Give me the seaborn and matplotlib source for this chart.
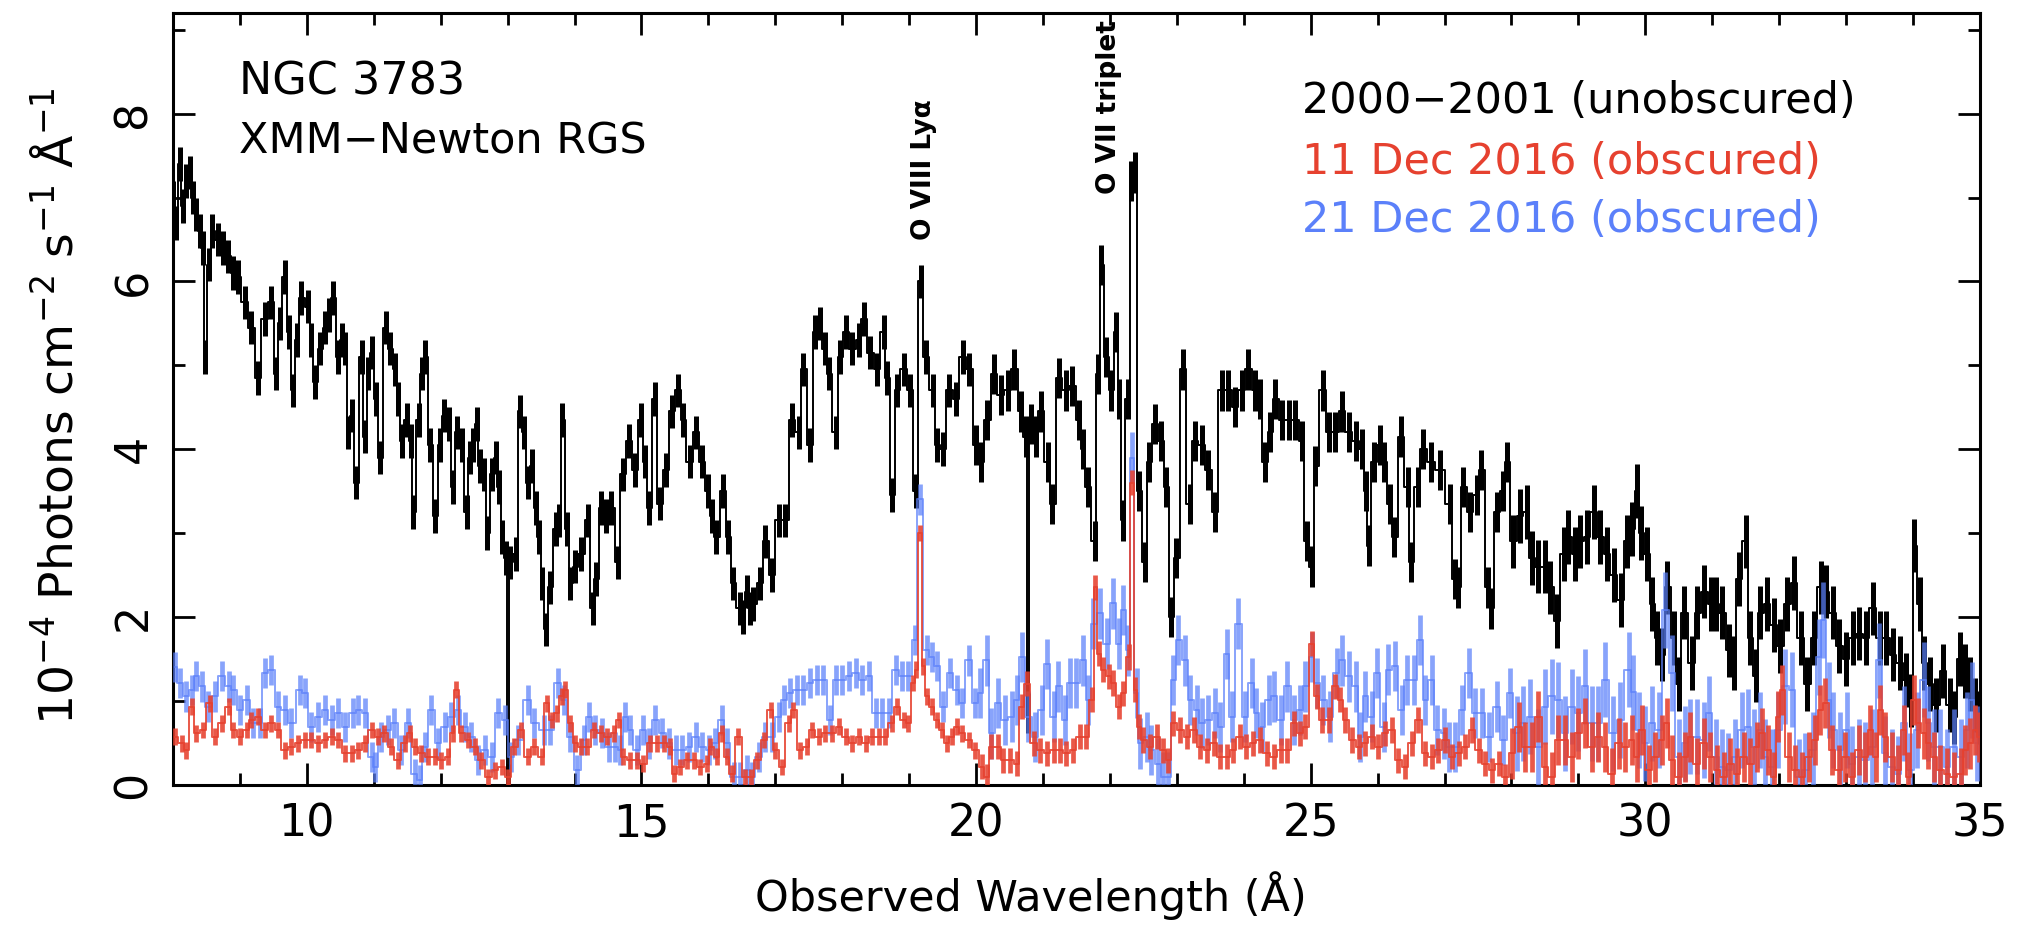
"""
NGC 3783 RGS spectrum: unobscured 2000-2001 vs two obscured epochs in Dec 2016.
Values read off the published figure (step spectrum with 1-sigma error bars).
"""
import matplotlib
matplotlib.use("Agg")
import matplotlib.pyplot as plt
import numpy as np
import seaborn as sns
from matplotlib.ticker import MultipleLocator

# ---- 2000-2001 (unobscured), black ----
wl_black = [
    8.00, 8.05, 8.10, 8.15, 8.20, 8.25, 8.30, 8.35, 8.40, 8.45, 8.48, 8.54, 8.59, 8.67, 8.75,
    8.82, 8.90, 8.97, 9.07, 9.17, 9.27, 9.37, 9.47, 9.54, 9.60, 9.67, 9.73, 9.79, 9.85, 9.92,
    10.02, 10.07, 10.12, 10.20, 10.27, 10.33, 10.39, 10.47, 10.52, 10.57, 10.62, 10.68, 10.74,
    10.82, 10.87, 10.92, 10.97, 11.03, 11.09, 11.19, 11.25, 11.32, 11.37, 11.42, 11.49, 11.55,
    11.59, 11.67, 11.72, 11.77, 11.84, 11.92, 11.99, 12.05, 12.12, 12.19, 12.25, 12.32, 12.39,
    12.44, 12.49, 12.54, 12.59, 12.65, 12.69, 12.77, 12.82, 12.87, 12.92, 12.97, 13.00, 13.03,
    13.12, 13.19, 13.24, 13.30, 13.37, 13.42, 13.47, 13.52, 13.57, 13.64, 13.72, 13.77, 13.82,
    13.89, 13.94, 14.00, 14.10, 14.20, 14.27, 14.32, 14.40, 14.47, 14.55, 14.65, 14.72, 14.82,
    14.90, 15.00, 15.05, 15.12, 15.20, 15.27, 15.37, 15.45, 15.55, 15.62, 15.72, 15.82, 15.90,
    16.00, 16.06, 16.12, 16.22, 16.30, 16.37, 16.47, 16.52, 16.57, 16.62, 16.67, 16.77, 16.85,
    16.95, 17.05, 17.15, 17.25, 17.35, 17.42, 17.52, 17.60, 17.67, 17.74, 17.80, 17.90, 17.97,
    18.05, 18.15, 18.25, 18.32, 18.42, 18.52, 18.62, 18.67, 18.75, 18.82, 18.92, 19.02, 19.10,
    19.17, 19.25, 19.35, 19.42, 19.50, 19.60, 19.70, 19.80, 19.90, 20.00, 20.07, 20.17, 20.27,
    20.37, 20.47, 20.57, 20.67, 20.74, 20.77, 20.82, 20.89, 20.97, 21.07, 21.14, 21.24, 21.34,
    21.44, 21.54, 21.60, 21.67, 21.77, 21.82, 21.87, 21.94, 22.02, 22.09, 22.14, 22.19, 22.27,
    22.32, 22.37, 22.44, 22.52, 22.59, 22.67, 22.77, 22.84, 22.92, 22.99, 23.09, 23.19, 23.27,
    23.37, 23.47, 23.57, 23.67, 23.77, 23.87, 23.97, 24.07, 24.17, 24.24, 24.32, 24.39, 24.47,
    24.57, 24.67, 24.77, 24.87, 24.94, 25.02, 25.07, 25.19, 25.27, 25.37, 25.47, 25.57, 25.67,
    25.77, 25.82, 25.87, 25.94, 26.04, 26.10, 26.18, 26.25, 26.35, 26.45, 26.50, 26.60, 26.68,
    26.80, 26.93, 27.08, 27.15, 27.20, 27.28, 27.38, 27.48, 27.55, 27.65, 27.70, 27.78, 27.88,
    27.93, 28.03, 28.13, 28.23, 28.30, 28.40, 28.50, 28.58, 28.68, 28.78, 28.85, 28.95, 29.03,
    29.13, 29.23, 29.33, 29.43, 29.53, 29.63, 29.73, 29.80, 29.88, 29.93, 30.03, 30.10, 30.18,
    30.25, 30.33, 30.43, 30.50, 30.58, 30.70, 30.78, 30.88, 30.98, 31.05, 31.15, 31.25, 31.32,
    31.40, 31.50, 31.57, 31.65, 31.72, 31.82, 31.92, 32.02, 32.12, 32.22, 32.32, 32.42, 32.52,
    32.62, 32.70, 32.80, 32.90, 33.00, 33.10, 33.20, 33.30, 33.40, 33.50, 33.60, 33.70, 33.80,
    33.90, 33.97, 34.02, 34.10, 34.17, 34.25, 34.35, 34.45, 34.55, 34.62, 34.70, 34.77, 34.85,
    34.92, 35.00,
]
flux_black = [
    7.0, 6.7, 7.4, 6.9, 7.2, 7.3, 7.0, 6.8, 6.6, 6.4, 5.1, 6.2, 6.6, 6.5, 6.4,
    6.3, 6.1, 6.05, 5.75, 5.45, 4.85, 5.55, 5.75, 4.9, 5.5, 6.05, 5.4, 4.7, 5.3, 5.8,
    5.7, 5.3, 4.8, 5.2, 5.45, 5.6, 5.8, 5.1, 5.3, 5.2, 4.2, 4.4, 3.6,
    5.1, 4.15, 4.9, 5.15, 4.6, 3.9, 5.45, 5.2, 4.95, 4.6, 4.1, 4.35, 4.1,
    3.25, 4.35, 4.9, 5.1, 4.05, 3.2, 4.05, 4.4, 4.3, 3.55, 4.2, 4.05, 3.25,
    3.9, 4.05, 4.3, 3.8, 3.7, 3.0, 3.7, 3.9, 3.55, 2.95, 2.7, 0.05, 2.65,
    2.75, 4.45, 4.2, 3.6, 3.8, 3.3, 2.95, 2.4, 1.85, 2.35, 3.05, 3.15, 4.35,
    3.05, 2.4, 2.6, 2.75, 3.15, 2.1, 2.45, 3.3, 3.2, 3.3, 2.65, 3.7, 4.1,
    3.75, 4.35, 3.85, 3.3, 4.6, 3.35, 3.75, 4.45, 4.7, 4.35, 3.85, 4.2, 3.85,
    3.5, 3.2, 2.95, 3.5, 2.95, 2.4, 2.1, 2.0, 2.3, 2.1, 2.15, 2.4, 2.9,
    2.5, 3.15, 3.15, 4.35, 4.2, 4.95, 4.05, 5.4, 5.5, 5.2, 4.9, 4.2, 5.1,
    5.4, 5.2, 5.3, 5.55, 5.15, 4.95, 5.4, 4.85, 3.45, 4.7, 4.95, 4.7, 3.5,
    6.0, 5.1, 4.7, 4.05, 4.0, 4.7, 4.6, 5.1, 4.95, 4.05, 3.85, 4.35, 4.9,
    4.65, 4.7, 4.95, 4.45, 4.15, 0.85, 4.3, 4.15, 4.45, 3.85, 3.35, 4.85, 4.7,
    4.75, 4.35, 4.0, 3.55, 2.9, 4.9, 6.2, 5.1, 4.7, 5.4, 4.6, 3.15, 4.6,
    7.2, 7.3, 3.5, 2.65, 3.85, 4.3, 4.1, 3.55, 2.0, 2.7, 4.95, 3.35, 4.1,
    4.05, 3.75, 3.25, 4.7, 4.7, 4.5, 4.7, 4.95, 4.7, 4.6, 3.85, 4.2, 4.6,
    4.35, 4.35, 4.35, 4.1, 2.9, 2.6, 3.8, 4.7, 4.2, 4.2, 4.45, 4.2, 4.1,
    4.0, 3.5, 2.85, 3.85, 4.05, 3.85, 3.35, 2.95, 4.15, 3.55, 2.65, 3.55, 4.0,
    3.85, 3.75, 3.35, 2.45, 2.35, 3.55, 3.25, 3.45, 3.75, 2.35, 2.1, 3.25, 3.5,
    3.85, 2.9, 3.2, 3.25, 2.7, 2.6, 2.6, 2.35, 1.95, 2.75, 2.95, 2.75, 2.9,
    2.95, 3.25, 2.95, 2.75, 2.5, 2.2, 2.9, 3.05, 3.5, 3.0, 2.75, 2.15, 1.75,
    1.55, 2.35, 1.75, 1.2, 2.05, 1.45, 2.05, 2.3, 2.15, 2.15, 2.05, 1.6, 1.45,
    2.45, 2.9, 1.75, 1.3, 2.05, 2.15, 1.9, 1.65, 2.15, 2.4, 1.75, 1.2, 1.75,
    2.35, 2.3, 2.05, 1.65, 1.5, 1.75, 1.8, 1.75, 2.1, 1.75, 1.75, 1.55, 1.45,
    1.25, 1.0, 2.85, 2.15, 1.45, 1.2, 0.95, 1.35, 0.95, 0.8, 1.5, 1.35, 1.2,
    0.95, 0.8,
]

# ---- 11 Dec 2016 (obscured), red ----
wl_red = [
    8.03, 8.13, 8.20, 8.28, 8.35, 8.45, 8.55, 8.63, 8.73, 8.83, 8.90, 9.00, 9.10, 9.17, 9.27,
    9.37, 9.47, 9.57, 9.67, 9.77, 9.87, 9.97, 10.07, 10.17, 10.27, 10.37, 10.47, 10.57, 10.67,
    10.77, 10.87, 10.97, 11.06, 11.16, 11.26, 11.36, 11.46, 11.54, 11.61, 11.71, 11.81, 11.91,
    12.01, 12.11, 12.18, 12.23, 12.31, 12.41, 12.51, 12.61, 12.71, 12.81, 12.91, 13.01, 13.10,
    13.20, 13.30, 13.40, 13.51, 13.59, 13.66, 13.74, 13.81, 13.86, 13.94, 14.01, 14.09, 14.19,
    14.29, 14.39, 14.49, 14.59, 14.66, 14.73, 14.83, 14.93, 15.03, 15.13, 15.23, 15.33, 15.43,
    15.48, 15.58, 15.68, 15.78, 15.88, 15.98, 16.03, 16.13, 16.20, 16.28, 16.35, 16.45, 16.55,
    16.63, 16.73, 16.83, 16.93, 17.00, 17.10, 17.20, 17.27, 17.37, 17.47, 17.55, 17.65, 17.75,
    17.85, 17.95, 18.05, 18.15, 18.25, 18.35, 18.45, 18.55, 18.64, 18.74, 18.82, 18.92, 18.99,
    19.06, 19.11, 19.16, 19.21, 19.26, 19.34, 19.41, 19.49, 19.56, 19.64, 19.71, 19.79, 19.89,
    19.99, 20.09, 20.16, 20.23, 20.33, 20.41, 20.51, 20.61, 20.68, 20.76, 20.86, 20.96, 21.06,
    21.16, 21.26, 21.35, 21.45, 21.55, 21.65, 21.73, 21.78, 21.83, 21.90, 21.98, 22.05, 22.13,
    22.20, 22.28, 22.33, 22.38, 22.43, 22.50, 22.60, 22.70, 22.80, 22.87, 22.95, 23.05, 23.15,
    23.25, 23.35, 23.45, 23.55, 23.65, 23.75, 23.84, 23.94, 24.04, 24.14, 24.24, 24.34, 24.45,
    24.55, 24.65, 24.75, 24.84, 24.92, 25.02, 25.09, 25.17, 25.27, 25.37, 25.44, 25.52, 25.62,
    25.72, 25.81, 25.91, 26.01, 26.11, 26.21, 26.31, 26.41, 26.51, 26.61, 26.71, 26.81, 26.91,
    27.01, 27.11, 27.21, 27.31, 27.41, 27.51, 27.61, 27.71, 27.81, 27.91, 28.01, 28.11, 28.21,
    28.30, 28.40, 28.50, 28.60, 28.70, 28.80, 28.90, 29.00, 29.10, 29.20, 29.30, 29.40, 29.50,
    29.60, 29.70, 29.80, 29.87, 29.95, 30.05, 30.15, 30.25, 30.32, 30.40, 30.50, 30.60, 30.67,
    30.77, 30.87, 30.97, 31.07, 31.17, 31.27, 31.37, 31.47, 31.57, 31.67, 31.74, 31.84, 31.92,
    31.99, 32.04, 32.14, 32.24, 32.34, 32.44, 32.54, 32.61, 32.69, 32.79, 32.89, 32.99, 33.09,
    33.19, 33.29, 33.36, 33.44, 33.51, 33.58, 33.68, 33.78, 33.86, 33.93, 34.01, 34.08, 34.16,
    34.23, 34.31, 34.41, 34.51, 34.61, 34.71, 34.78, 34.85, 34.93, 34.98,
]
flux_red = [
    0.57, 0.49, 0.41, 0.93, 0.61, 0.65, 0.97, 0.57, 0.73, 0.93, 0.65, 0.57, 0.65, 0.77, 0.81,
    0.65, 0.73, 0.65, 0.41, 0.45, 0.49, 0.53, 0.53, 0.49, 0.53, 0.57, 0.53, 0.37, 0.37,
    0.41, 0.49, 0.65, 0.57, 0.61, 0.45, 0.29, 0.49, 0.61, 0.45, 0.37, 0.33, 0.33,
    0.29, 0.33, 0.61, 1.13, 0.61, 0.53, 0.45, 0.29, 0.09, 0.17, 0.21, 0.09, 0.45,
    0.65, 0.33, 0.45, 0.33, 0.97, 0.77, 0.85, 1.05, 1.13, 0.73, 0.49, 0.45, 0.45,
    0.65, 0.61, 0.57, 0.61, 0.77, 0.33, 0.29, 0.29, 0.25, 0.49, 0.49, 0.49, 0.45,
    0.13, 0.21, 0.29, 0.29, 0.21, 0.25, 0.45, 0.33, 0.61, 0.33, 0.13, 0.57, 0.09,
    0.09, 0.29, 0.53, 0.89, 0.41, 0.21, 0.73, 0.89, 0.41, 0.45, 0.65, 0.57, 0.61,
    0.61, 0.69, 0.57, 0.49, 0.57, 0.49, 0.57, 0.57, 0.57, 0.73, 0.93, 0.77, 0.73,
    1.21, 1.37, 3.0, 1.41, 1.05, 0.93, 0.77, 0.65, 0.49, 0.57, 0.69, 0.61, 0.53,
    0.41, 0.21, 0.09, 0.45, 0.45, 0.29, 0.29, 0.25, 0.93, 1.2, 0.49, 0.41, 0.37,
    0.41, 0.41, 0.37, 0.41, 0.57, 0.57, 1.01, 2.35, 1.56, 1.37, 1.29, 1.21, 0.93,
    1.09, 1.52, 3.6, 1.13, 0.69, 0.53, 0.45, 0.57, 0.41, 0.29, 0.73, 0.65, 0.57,
    0.65, 0.45, 0.41, 0.49, 0.33, 0.33, 0.41, 0.57, 0.45, 0.49, 0.53, 0.37, 0.33,
    0.41, 0.41, 0.73, 0.61, 0.69, 1.68, 1.05, 0.77, 0.77, 1.17, 1.01, 0.77, 0.53,
    0.45, 0.49, 0.57, 0.45, 0.61, 0.65, 0.29, 0.21, 0.49, 0.77, 0.37, 0.33, 0.41,
    0.53, 0.33, 0.37, 0.45, 0.65, 0.41, 0.25, 0.17, 0.25, 0.09, 0.37, 0.69, 0.45,
    0.45, 0.81, 0.21, 0.09, 0.53, 0.53, 0.33, 0.61, 0.73, 0.45, 0.57, 0.45, 0.13,
    0.49, 0.45, 0.53, 0.33, 0.65, 0.17, 0.33, 0.53, 0.73, 0.29, 0.09, 0.33, 0.57,
    0.25, 0.49, 0.33, 0.17, 0.09, 0.25, 0.13, 0.33, 0.25, 0.45, 0.61, 0.41, 0.09,
    0.81, 1.13, 0.33, 0.17, 0.09, 0.33, 0.53, 0.89, 0.97, 0.41, 0.17, 0.33, 0.09,
    0.41, 0.33, 0.65, 0.33, 0.89, 0.57, 0.33, 0.17, 0.65, 0.09, 1.01, 0.73, 0.61,
    0.49, 0.33, 0.17, 0.13, 0.09, 0.13, 0.41, 0.49, 0.65, 0.57,
]

# ---- 21 Dec 2016 (obscured), blue ----
wl_blue = [
    8.03, 8.10, 8.20, 8.28, 8.35, 8.43, 8.53, 8.63, 8.73, 8.83, 8.90, 9.00, 9.10, 9.20, 9.30,
    9.37, 9.47, 9.57, 9.67, 9.77, 9.90, 9.97, 10.07, 10.17, 10.27, 10.37, 10.47, 10.57, 10.69,
    10.77, 10.87, 10.97, 11.02, 11.11, 11.21, 11.31, 11.41, 11.51, 11.61, 11.69, 11.76, 11.86,
    11.96, 12.06, 12.16, 12.26, 12.36, 12.46, 12.56, 12.66, 12.76, 12.86, 12.96, 13.05, 13.15,
    13.30, 13.40, 13.54, 13.64, 13.76, 13.84, 13.94, 14.04, 14.14, 14.21, 14.31, 14.41, 14.51,
    14.61, 14.68, 14.76, 14.83, 14.93, 15.03, 15.11, 15.21, 15.31, 15.41, 15.51, 15.61, 15.71,
    15.81, 15.91, 16.01, 16.10, 16.20, 16.28, 16.38, 16.48, 16.58, 16.65, 16.75, 16.85, 16.95,
    17.05, 17.13, 17.22, 17.32, 17.42, 17.52, 17.62, 17.72, 17.82, 17.90, 18.00, 18.10, 18.20,
    18.30, 18.40, 18.50, 18.60, 18.70, 18.80, 18.89, 18.99, 19.09, 19.16, 19.26, 19.34, 19.41,
    19.51, 19.61, 19.71, 19.79, 19.89, 19.99, 20.06, 20.16, 20.23, 20.33, 20.43, 20.53, 20.61,
    20.68, 20.78, 20.88, 20.98, 21.06, 21.16, 21.23, 21.33, 21.40, 21.50, 21.60, 21.68, 21.75,
    21.85, 21.95, 22.05, 22.13, 22.20, 22.27, 22.33, 22.40, 22.45, 22.55, 22.62, 22.72, 22.80,
    22.87, 22.95, 23.02, 23.12, 23.20, 23.30, 23.37, 23.47, 23.57, 23.65, 23.75, 23.82, 23.92,
    24.02, 24.12, 24.19, 24.27, 24.37, 24.45, 24.55, 24.65, 24.75, 24.84, 24.92, 25.02, 25.09,
    25.19, 25.29, 25.39, 25.47, 25.57, 25.67, 25.74, 25.81, 25.91, 25.99, 26.09, 26.16, 26.26,
    26.36, 26.44, 26.54, 26.64, 26.71, 26.81, 26.89, 26.99, 27.06, 27.16, 27.26, 27.36, 27.46,
    27.56, 27.66, 27.78, 27.88, 27.98, 28.08, 28.18, 28.28, 28.40, 28.50, 28.60, 28.70, 28.80,
    28.90, 29.00, 29.10, 29.20, 29.30, 29.40, 29.52, 29.62, 29.75, 29.82, 29.90, 30.00, 30.10,
    30.20, 30.30, 30.40, 30.50, 30.60, 30.67, 30.77, 30.87, 30.95, 31.05, 31.14, 31.24, 31.34,
    31.44, 31.54, 31.62, 31.72, 31.79, 31.89, 31.99, 32.09, 32.19, 32.29, 32.39, 32.51, 32.59,
    32.66, 32.74, 32.81, 32.91, 33.01, 33.09, 33.19, 33.29, 33.39, 33.49, 33.58, 33.68, 33.78,
    33.86, 33.96, 34.06, 34.16, 34.23, 34.31, 34.41, 34.51, 34.61, 34.71, 34.80, 34.88, 34.95,
]
flux_blue = [
    1.40, 1.21, 1.05, 1.13, 1.29, 1.17, 0.93, 1.05, 1.29, 1.17, 1.13, 0.89, 1.01, 0.73, 0.73,
    1.33, 1.37, 0.93, 0.89, 0.73, 1.13, 1.09, 0.69, 0.81, 0.89, 0.77, 0.85, 0.69, 0.85,
    0.89, 0.85, 0.33, 0.21, 0.57, 0.65, 0.73, 0.41, 0.73, 0.13, 0.05, 0.45, 0.89,
    0.49, 0.69, 0.81, 0.89, 0.69, 0.57, 0.29, 0.41, 0.33, 0.85, 0.77, 0.33, 0.53,
    1.01, 0.73, 0.65, 0.65, 1.21, 1.01, 0.57, 0.17, 0.53, 0.81, 0.65, 0.61, 0.45,
    0.45, 0.41, 0.81, 0.65, 0.41, 0.65, 0.49, 0.77, 0.61, 0.49, 0.41, 0.41, 0.45,
    0.57, 0.45, 0.41, 0.49, 0.77, 0.49, 0.09, 0.09, 0.17, 0.09, 0.33, 0.57, 0.57,
    0.81, 1.01, 1.09, 1.13, 1.13, 1.21, 1.25, 1.25, 0.77, 1.25, 1.25, 1.29, 1.33,
    1.25, 1.29, 0.85, 0.85, 0.85, 1.37, 1.29, 1.29, 1.72, 3.4, 1.6, 1.52, 1.41,
    0.93, 1.33, 1.13, 0.97, 1.48, 0.97, 1.09, 1.48, 0.61, 0.97, 0.77, 0.81, 1.01,
    1.52, 0.81, 0.57, 0.89, 1.44, 0.81, 1.17, 0.77, 1.21, 1.21, 1.48, 1.01, 1.92,
    2.04, 1.68, 2.16, 1.68, 2.08, 1.6, 3.9, 1.09, 0.49, 0.57, 0.41, 0.25, 0.09,
    0.09, 1.25, 1.72, 1.48, 1.01, 0.89, 0.73, 0.77, 0.85, 0.69, 1.56, 0.81, 1.92,
    0.81, 1.21, 0.85, 0.69, 1.01, 1.05, 0.77, 1.17, 0.77, 0.89, 1.17, 1.52, 1.21,
    1.01, 0.81, 1.33, 1.48, 1.29, 1.17, 0.57, 1.05, 0.81, 1.33, 0.69, 1.37, 1.41,
    0.89, 1.25, 1.25, 1.72, 1.01, 1.25, 0.65, 0.61, 0.45, 0.45, 0.89, 1.33, 0.85,
    0.85, 0.57, 0.93, 0.53, 1.09, 0.61, 0.73, 0.81, 0.45, 0.93, 1.05, 1.01, 0.61,
    0.93, 0.85, 1.17, 0.73, 0.73, 1.25, 0.61, 0.77, 1.37, 1.10, 0.65, 0.49, 0.73,
    0.65, 2.08, 1.33, 0.33, 0.49, 0.57, 0.57, 0.53, 0.85, 0.33, 0.21, 0.17, 0.33,
    0.65, 0.69, 0.45, 0.65, 0.33, 0.21, 0.65, 1.17, 1.13, 0.09, 0.17, 0.41, 1.52,
    1.96, 1.01, 0.65, 0.41, 0.65, 0.25, 0.33, 0.29, 0.45, 1.48, 0.37, 0.21, 0.13,
    0.73, 0.17, 0.65, 1.25, 0.73, 0.45, 0.45, 0.21, 0.45, 0.33, 0.65, 1.01, 0.49,
]

# 1-sigma error per wavelength band (<20, 20-28, >28 A)
err_edges = [20.0, 28.0]
err_black = [0.20, 0.24, 0.32]
err_red = [0.10, 0.15, 0.30]
err_blue = [0.18, 0.30, 0.45]

labels = ["2000\u22122001 (unobscured)", "11 Dec 2016 (obscured)", "21 Dec 2016 (obscured)"]
colors = ["#000000", "#e6412f", "#5b80fa"]

sns.set_style("ticks")
plt.rcParams["font.family"] = ["DejaVu Sans"]
plt.rcParams["mathtext.fontset"] = "dejavusans"
for key in ("text.color", "axes.labelcolor", "xtick.color", "ytick.color", "axes.edgecolor"):
    plt.rcParams[key] = "black"

fig = plt.figure(figsize=(20.23, 9.26), dpi=100)
ax = fig.add_axes([0.0855, 0.1528, 0.8932, 0.833])

series = [
    (wl_black, flux_black, err_black, colors[0], 1.0, 3.6, 2),
    (wl_blue, flux_blue, err_blue, colors[2], 0.72, 3.4, 3),
    (wl_red, flux_red, err_red, colors[1], 0.88, 3.4, 4),
]
for wl, flux, err, col, alpha, bar_lw, z in series:
    wl = np.asarray(wl)
    flux = np.asarray(flux)
    sig = np.take(err, np.digitize(wl, err_edges))
    sns.lineplot(x=wl, y=flux, ax=ax, color=col, lw=1.4, alpha=alpha,
                 drawstyle="steps-mid", estimator=None, zorder=z)
    ax.vlines(wl, flux - sig, flux + sig, colors=col, lw=bar_lw, alpha=alpha, zorder=z)

ax.set_xlim(8, 35)
ax.set_ylim(0, 9.2)
ax.xaxis.set_major_locator(MultipleLocator(5))
ax.xaxis.set_minor_locator(MultipleLocator(1))
ax.yaxis.set_major_locator(MultipleLocator(2))
ax.yaxis.set_minor_locator(MultipleLocator(1))
ax.tick_params(which="both", direction="in", top=True, right=True, width=2, color="black")
ax.tick_params(which="major", length=16, labelsize=32, pad=13,
               labelfontfamily=["Liberation Sans Narrow", "DejaVu Sans"])
ax.tick_params(which="minor", length=8.5)
ax.tick_params(axis="y", labelrotation=90)
for lab in ax.get_yticklabels():
    lab.set_va("center")
for side in ax.spines.values():
    side.set_linewidth(2.2)

ax.set_xlabel("Observed Wavelength (\u00c5)", fontsize=31)
ax.set_ylabel("10$^{-4}$ Photons cm$^{-2}$ s$^{-1}$ \u00c5$^{-1}$", fontsize=34)
ax.xaxis.set_label_coords(0.475, -0.112)
ax.yaxis.set_label_coords(-0.05, 0.49)

ax.text(0.0365, 0.895, "NGC 3783", transform=ax.transAxes, fontsize=32, va="baseline")
ax.text(0.0365, 0.818, "XMM\u2212Newton RGS", transform=ax.transAxes, fontsize=31, va="baseline")
for i, (lab, col) in enumerate(zip(labels, colors)):
    ax.text(0.625, [0.871, 0.792, 0.716][i], lab, color=col, transform=ax.transAxes,
            fontsize=31, va="baseline")

ax.text(19.22, 6.5, "O VIII Ly\u03b1", rotation=90, ha="center", va="bottom",
        fontsize=19, fontweight="bold")
ax.text(21.98, 7.04, "O VII triplet", rotation=90, ha="center", va="bottom",
        fontsize=19, fontweight="bold")

fig.savefig("out.png", dpi=100)
